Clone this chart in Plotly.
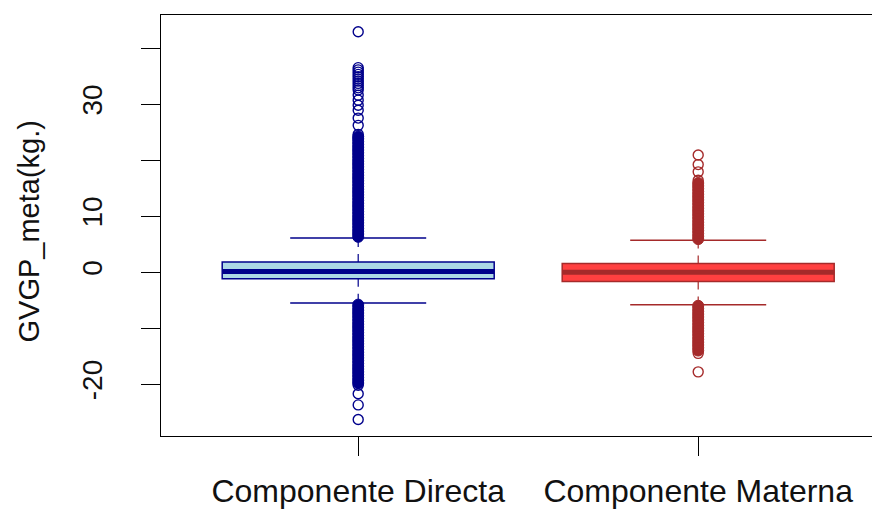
import plotly.graph_objects as go

# ---------------- data ----------------
categories = ["Componente Directa", "Componente Materna"]
positions = [1, 2]

q1 = [-1.2, -1.65]
median = [0.1, 0.0]
q3 = [1.8, 1.55]
whisker_low = [-5.5, -5.8]
whisker_high = [6.1, 5.7]

# outliers so densely overplotted that they form a solid column
directa_dense = [
    6.3, 6.8, 7.3, 7.8, 8.3, 8.8, 9.3, 9.8, 10.3, 10.8, 11.3, 11.8, 12.3, 12.8,
    13.3, 13.8, 14.3, 14.8, 15.3, 15.8, 16.3, 16.8, 17.3, 17.8, 18.3, 18.8,
    19.3, 19.8, 20.3, 20.8, 21.3, 21.8, 22.3, 22.8, 23.3, 23.8, 24.2,
    -5.8, -6.3, -6.8, -7.3, -7.8, -8.3, -8.8, -9.3, -9.8, -10.3, -10.8, -11.3,
    -11.8, -12.3, -12.8, -13.3, -13.8, -14.3, -14.8, -15.3, -15.8, -16.3,
    -16.8, -17.3, -17.8, -18.3, -18.8, -19.3, -19.8,
]
# outliers drawn as separate open circles
directa_sparse = [
    24.6, 26.2, 27.5, 28.9, 29.8, 30.7, 31.6, 32.5, 32.9, 33.3, 33.7, 34.1, 34.5,
    34.9, 35.3, 35.7, 36.1, 36.5, 42.9,
    -20.2, -21.7, -23.7, -26.3,
]
materna_dense = [
    5.9, 6.4, 6.9, 7.4, 7.9, 8.4, 8.9, 9.4, 9.9, 10.4, 10.9, 11.4, 11.9, 12.4,
    12.9, 13.4, 13.9, 14.4, 14.9, 15.4, 15.9,
    -6.0, -6.5, -7.0, -7.5, -8.0, -8.5, -9.0, -9.5, -10.0, -10.5, -11.0,
    -11.5, -12.0, -12.5, -13.0, -13.5, -14.0,
]
materna_sparse = [16.4, 17.9, 19.2, 20.9, -14.5, -17.8]

dense_outliers = [directa_dense, materna_dense]
sparse_outliers = [directa_sparse, materna_sparse]

y_tick_values = [-20, -10, 0, 10, 20, 30, 40]
y_tick_labels = ["-20", "", "0", "10", "", "30", ""]
y_title = "GVGP_meta(kg.)"

# ---------------- styles ----------------
fill_colors = ["#ADD8E6", "#FF4040"]
line_colors = ["#00008B", "#A52A2A"]
BOX_W = 0.8
STAPLE_W = 0.4
FONT = "Liberation Sans, Arial, sans-serif"

fig = go.Figure()

for i in range(2):
    p = positions[i]
    col = line_colors[i]
    fig.add_trace(go.Box(
        x=[p], q1=[q1[i]], median=[median[i]], q3=[q3[i]],
        lowerfence=[q1[i]], upperfence=[q3[i]],
        width=BOX_W, whiskerwidth=0,
        fillcolor=fill_colors[i], line=dict(color=col, width=1.5),
        boxpoints=False, showlegend=False, hoverinfo="skip",
    ))
    fig.add_trace(go.Scatter(
        x=[p, p], y=[q3[i], whisker_high[i]], mode="lines",
        line=dict(color=col, width=1.2, dash="8px,7px"),
        showlegend=False, hoverinfo="skip"))
    fig.add_trace(go.Scatter(
        x=[p, p], y=[q1[i], whisker_low[i]], mode="lines",
        line=dict(color=col, width=1.2, dash="8px,7px"),
        showlegend=False, hoverinfo="skip"))
    for w in (whisker_high[i], whisker_low[i]):
        fig.add_trace(go.Scatter(
            x=[p - STAPLE_W / 2, p + STAPLE_W / 2], y=[w, w], mode="lines",
            line=dict(color=col, width=1.5),
            showlegend=False, hoverinfo="skip"))
    fig.add_trace(go.Scatter(
        x=[p - BOX_W / 2, p + BOX_W / 2], y=[median[i], median[i]], mode="lines",
        line=dict(color=col, width=5),
        showlegend=False, hoverinfo="skip"))
    fig.add_trace(go.Scatter(
        x=[p] * len(dense_outliers[i]), y=dense_outliers[i], mode="markers",
        marker=dict(symbol="circle", size=11, color=col,
                    line=dict(width=1, color=col)),
        showlegend=False, hoverinfo="skip"))
    fig.add_trace(go.Scatter(
        x=[p] * len(sparse_outliers[i]), y=sparse_outliers[i], mode="markers",
        marker=dict(symbol="circle-open", size=10, color=col,
                    line=dict(width=1.4, color=col)),
        showlegend=False, hoverinfo="skip"))

# the page body adds an 8px offset, so the figure is sized to fit inside it
fig.update_layout(
    width=872, height=503,
    margin=dict(l=153, r=0, t=7, b=75),
    plot_bgcolor="white", paper_bgcolor="white",
    font=dict(family=FONT, color="black"),
    xaxis=dict(
        range=[0.42, 0.42 + 719 / 340], tickmode="array",
        tickvals=positions, ticktext=categories,
        ticks="outside", ticklen=19, tickwidth=1, tickcolor="black",
        tickfont=dict(size=32, family=FONT, color="#111111"),
        ticklabelstandoff=8, automargin=False,
        showline=True, linecolor="black", linewidth=1, mirror=True,
        showgrid=False, zeroline=False,
    ),
    yaxis=dict(
        range=[-29.25, 45.9], tickmode="array",
        tickvals=y_tick_values, ticktext=y_tick_labels, tickangle=-90,
        ticks="outside", ticklen=19, tickwidth=1, tickcolor="black",
        tickfont=dict(size=28, family=FONT, color="#111111"),
        ticklabelstandoff=28, automargin=False,
        showline=True, linecolor="black", linewidth=1, mirror=False,
        showgrid=False, zeroline=False,
    ),
    annotations=[dict(
        text=y_title, xref="paper", yref="paper", x=0, y=0.5,
        xanchor="center", yanchor="middle", xshift=-133, yshift=-6,
        textangle=-90, showarrow=False,
        font=dict(size=29, family=FONT, color="#111111"),
    )],
)

fig.write_html("out.html")
